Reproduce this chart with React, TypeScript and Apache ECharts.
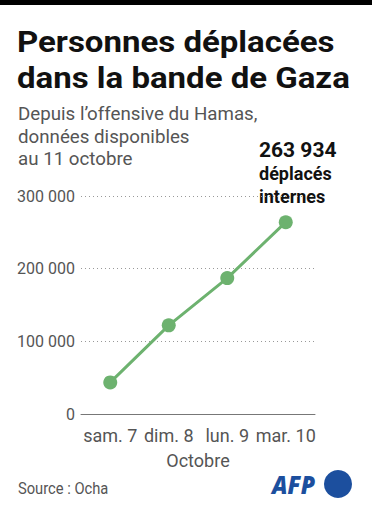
import React, { useEffect, useRef } from "react";
import * as echarts from "echarts";

const categories = ["sam. 7", "dim. 8", "lun. 9", "mar. 10"];
const displaced = [43500, 122000, 187000, 263934];
const yTicks = [0, 100000, 200000, 300000];
const title = ["Personnes déplacées", "dans la bande de Gaza"];
const subtitle = ["Depuis l’offensive du Hamas,", "données disponibles", "au 11 octobre"];
const annotation = ["263 934", "déplacés", "internes"];
const xAxisName = "Octobre";
const source = "Source : Ocha";

const FONT = "Roboto, 'Noto Sans', sans-serif";
const GREEN = "#6db26f";
const GREY = "#555555";
const BLUE = "#1c4f9e";

const fmt = (v: number) => String(v).replace(/\B(?=(\d{3})+(?!\d))/g, " ");

export default function App() {
  const ref = useRef<HTMLDivElement>(null);
  useEffect(() => {
    if (!ref.current) return;
    const chart = echarts.init(ref.current, undefined, { renderer: "svg" });
    const textLines = (
      lines: string[],
      x: number,
      y0: number,
      step: number,
      font: string,
      fill: string,
      scaleX = 1
    ) =>
      lines.map((t, i) => ({
        type: "text",
        x,
        y: y0 + i * step,
        scaleX,
        style: { text: t, font, fill, textAlign: "left", textVerticalAlign: "middle" },
      }));
    chart.setOption({
      animation: false,
      backgroundColor: "#ffffff",
      textStyle: { fontFamily: FONT },
      grid: { left: 81, right: 57, top: 196, bottom: 98, containLabel: false },
      xAxis: {
        type: "category",
        data: categories,
        boundaryGap: true,
        axisLine: { lineStyle: { color: "#777", width: 1 } },
        axisTick: { alignWithLabel: true, length: 6, lineStyle: { color: "#777" } },
        axisLabel: { color: GREY, fontSize: 18, margin: 12, interval: 0, fontFamily: FONT },
        name: xAxisName,
        nameLocation: "middle",
        nameGap: 37,
        nameTextStyle: { color: GREY, fontSize: 18, fontFamily: FONT },
      },
      yAxis: {
        type: "value",
        min: yTicks[0],
        max: yTicks[yTicks.length - 1],
        interval: yTicks[1] - yTicks[0],
        axisLine: { show: false },
        axisTick: { show: false },
        axisLabel: { color: GREY, fontSize: 16, margin: 6, fontFamily: FONT, formatter: (v: number) => fmt(v) },
        splitLine: { lineStyle: { color: "#999", type: [1, 3], width: 1 } },
      },
      series: [
        {
          type: "line",
          data: displaced,
          symbol: "circle",
          symbolSize: 14,
          lineStyle: { color: GREEN, width: 3 },
          itemStyle: { color: GREEN },
          z: 3,
        },
      ],
      graphic: [
        { type: "rect", left: 0, top: 0, shape: { width: 372, height: 5 }, style: { fill: "#000" } },
        ...textLines(title, 17, 42.5, 35.5, `bold 30px ${FONT}`, "#111", 1.1),
        ...textLines(subtitle, 18, 113.8, 22.5, `18px ${FONT}`, GREY, 1.04),
        ...textLines(annotation.slice(0, 1), 259, 149.8, 0, `bold 21px ${FONT}`, "#111"),
        ...textLines(annotation.slice(1), 259, 173.8, 23, `bold 18px ${FONT}`, "#111"),
        ...textLines([source], 18, 488.5, 0, `16px ${FONT}`, GREY, 0.92),
        {
          type: "text",
          x: 272,
          y: 484,
          scaleX: 0.92,
          style: { text: "AFP", font: `italic 900 25px 'Noto Sans', sans-serif`, fill: BLUE, textVerticalAlign: "middle" },
        },
        { type: "circle", shape: { cx: 338, cy: 484, r: 14 }, style: { fill: BLUE } },
      ],
    });
    return () => chart.dispose();
  }, []);
  return <div ref={ref} style={{ position: "fixed", left: 0, top: 0, width: 372, height: 512 }} />;
}
